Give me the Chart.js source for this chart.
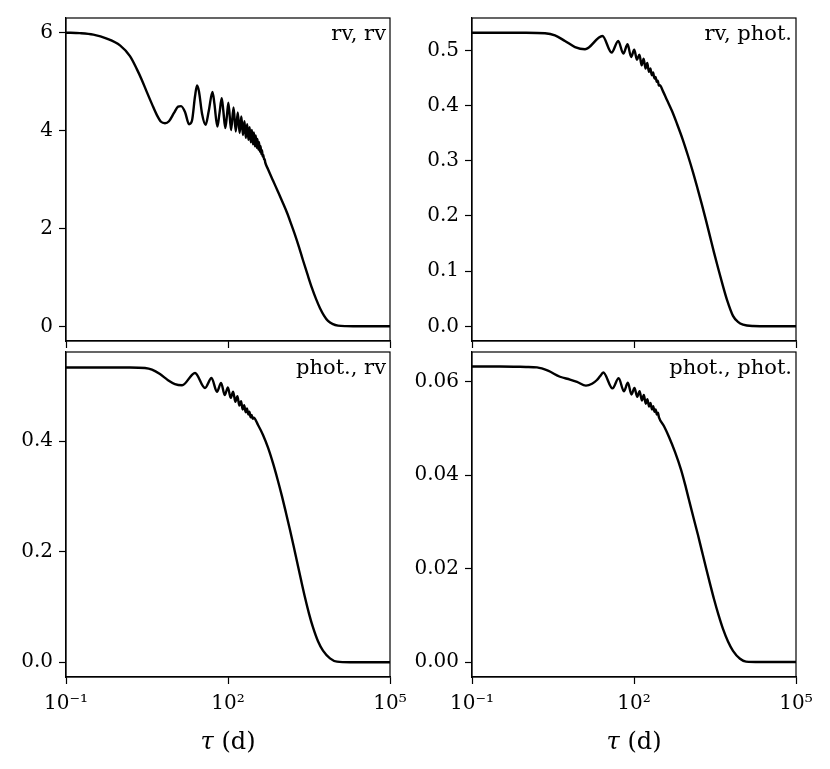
<!DOCTYPE html>
<html><head><meta charset="utf-8">
<script src="https://cdn.jsdelivr.net/npm/chart.js@4/dist/chart.umd.min.js"></script>
<style>
html,body{margin:0;padding:0;background:#fff;}
#wrap{position:relative;width:830px;height:769px;background:#fff;}
canvas{position:absolute;left:0;top:0;}
</style></head><body><div id="wrap">
<canvas id="c0" width="830" height="769"></canvas>
<canvas id="c1" width="830" height="769"></canvas>
<canvas id="c2" width="830" height="769"></canvas>
<canvas id="c3" width="830" height="769"></canvas>
</div>
<script>
// ---- data (tau in days, kernel values) ----
const tauRvRv = [0.1,0.18,0.32,0.57,1.0,1.53,2.06,2.55,3.16,3.91,4.85,5.74,6.81,8.07,10.0,11.9,13.5,16.0,19.0,21.5,24.5,26.7,29.0,33.0,38.5,44.0,51.6,56.0,63.5,69.5,76.5,82.0,89.0,95.5,101.7,114,126.7,139,151.7,164,176.7,189,201.7,214,226.7,239,251.7,264,276.7,289,301.7,314,326.7,339,351.7,364,376.7,389,401.7,414,426.7,439,451.7,464,476.7,489,551,681,843,1021,1239,1468,1741,2065,2448,2966,3594,4264,5058,5995,7110,8800,10890,15300,22500,42700,100000];
const kRvRv = [6.00,5.99,5.96,5.88,5.74,5.52,5.25,5.03,4.78,4.54,4.31,4.18,4.15,4.19,4.36,4.49,4.50,4.38,4.13,4.20,4.70,4.92,4.80,4.35,4.12,4.40,4.79,4.55,4.08,4.35,4.66,4.40,4.05,4.30,4.57,4.01,4.47,3.98,4.37,3.95,4.29,3.91,4.19,3.85,4.13,3.81,4.07,3.76,4.01,3.72,3.96,3.68,3.90,3.65,3.83,3.61,3.76,3.57,3.68,3.52,3.60,3.47,3.50,3.41,3.42,3.35,3.21,2.98,2.75,2.54,2.32,2.10,1.87,1.62,1.35,1.06,0.78,0.56,0.37,0.22,0.11,0.045,0.015,0.003,0.001,0,0];

const tauRvPhot = [0.1,0.33,1,2.25,3.44,5.27,8.08,12.4,26,38.5,51,63.5,76,88.5,101,113.5,126,138.5,151,163.5,176,188.5,201,213.5,226,238.5,251,263.5,276,288.5,301,340,408,506,625,808,1000,1239,1500,1815,2154,2554,3027,3594,4355,5275,6813,8430,10440,16000,33000,100000];
const kRvPhot = [0.532,0.532,0.532,0.531,0.527,0.517,0.506,0.502,0.526,0.496,0.517,0.494,0.511,0.488,0.501,0.483,0.492,0.473,0.485,0.467,0.477,0.461,0.467,0.455,0.460,0.449,0.452,0.443,0.445,0.436,0.437,0.427,0.410,0.390,0.367,0.337,0.309,0.279,0.250,0.220,0.192,0.163,0.134,0.106,0.076,0.048,0.019,0.008,0.003,0.0005,0,0];

const tauPhotRv = [0.1,0.43,1.53,2.9,3.91,5.5,7.74,10.4,14.1,24.5,37.5,49.5,62.5,74.5,87,99.5,112,124.5,137,149.5,162,174.5,187,199.5,212,224.5,237,249.5,262,274.5,287,299.5,360,445,551,681,826,1000,1186,1407,1633,1896,2249,2668,3162,3752,4642,5745,7743,10440,18200,100000];
const kPhotRv = [0.533,0.533,0.533,0.532,0.529,0.521,0.510,0.503,0.501,0.523,0.496,0.514,0.489,0.505,0.483,0.497,0.478,0.489,0.471,0.481,0.464,0.472,0.457,0.465,0.452,0.459,0.448,0.453,0.443,0.447,0.440,0.442,0.429,0.411,0.388,0.360,0.331,0.300,0.270,0.239,0.211,0.182,0.149,0.117,0.088,0.063,0.038,0.021,0.007,0.001,0,0];

const tauPhotPhot = [0.1,0.33,1,1.6,2.55,4.26,6.53,8.8,12.9,16.7,20.6,23.5,27,40,52,65,77,90,102,115,127,140,152,165,177,190,202,215,227,240,252,265,277,290,360,445,574,742,880,1044,1265,1531,1815,2154,2554,3027,3672,4446,5505,6813,9190,11860,21500,100000];
const kPhotPhot = [0.0633,0.0633,0.0632,0.0631,0.0624,0.0611,0.0605,0.0600,0.0592,0.0596,0.0604,0.0612,0.0620,0.0586,0.0608,0.0580,0.0598,0.0573,0.0587,0.0568,0.0580,0.0560,0.0572,0.0553,0.0563,0.0547,0.0555,0.0541,0.0548,0.0536,0.0541,0.0530,0.0534,0.0524,0.0505,0.0482,0.0450,0.0412,0.0381,0.0347,0.0309,0.0272,0.0237,0.0202,0.0168,0.0135,0.0101,0.0071,0.0044,0.0024,0.0007,0.0001,0,0];

const xTicks = [0.1, 100, 100000];
const xTickLabels = ['10\u207B\u00B9', '10\u00B2', '10\u2075'];
const yTicksRvRv = [0, 2, 4, 6];
const yLabelsRvRv = ['0', '2', '4', '6'];
const yTicksRvPhot = [0, 0.1, 0.2, 0.3, 0.4, 0.5];
const yLabelsRvPhot = ['0.0', '0.1', '0.2', '0.3', '0.4', '0.5'];
const yTicksPhotRv = [0, 0.2, 0.4];
const yLabelsPhotRv = ['0.0', '0.2', '0.4'];
const yTicksPhotPhot = [0, 0.02, 0.04, 0.06];
const yLabelsPhotPhot = ['0.00', '0.02', '0.04', '0.06'];
const panelLabels = ['rv, rv', 'rv, phot.', 'phot., rv', 'phot., phot.'];

// ---- layout / style ----
const FONT = "'DejaVu Serif', serif";
const W = 830, H = 769, YAXW = 66;
const panels = [
  {id:'c0', tau:tauRvRv, k:kRvRv, label:panelLabels[0], yMin:-0.3, yMax:6.3, yT:yTicksRvRv, yL:yLabelsRvRv, a:{l:66,t:16,r:390,b:341}, bottom:false},
  {id:'c1', tau:tauRvPhot, k:kRvPhot, label:panelLabels[1], yMin:-0.0266, yMax:0.5586, yT:yTicksRvPhot, yL:yLabelsRvPhot, a:{l:472,t:16,r:796,b:341}, bottom:false},
  {id:'c2', tau:tauPhotRv, k:kPhotRv, label:panelLabels[2], yMin:-0.0267, yMax:0.561, yT:yTicksPhotRv, yL:yLabelsPhotRv, a:{l:66,t:352,r:390,b:677}, bottom:true},
  {id:'c3', tau:tauPhotPhot, k:kPhotPhot, label:panelLabels[3], yMin:-0.0032, yMax:0.0664, yT:yTicksPhotPhot, yL:yLabelsPhotPhot, a:{l:472,t:352,r:796,b:677}, bottom:true}
];

const framePlugin = {
  id: 'frame',
  afterDraw(chart, args, opts) {
    const {ctx, chartArea: a} = chart;
    ctx.save();
    ctx.strokeStyle = '#000';
    ctx.lineWidth = 1.2;
    ctx.strokeRect(a.left, a.top, a.right - a.left, a.bottom - a.top);
    ctx.fillStyle = '#000';
    ctx.font = '21px ' + FONT;
    ctx.textAlign = 'right';
    ctx.textBaseline = 'alphabetic';
    ctx.fillText(opts.label, a.right - 4, a.top + 22);
    if (opts.xTitle) {
      const cx = (a.left + a.right) / 2, by = 749;
      ctx.textAlign = 'left';
      ctx.font = 'italic 24px ' + FONT;
      const t1 = '\u03C4';
      const w1 = ctx.measureText(t1).width;
      ctx.font = '24px ' + FONT;
      const t2 = ' (d)';
      const w2 = ctx.measureText(t2).width;
      const x0 = cx - (w1 + w2) / 2;
      ctx.font = 'italic 24px ' + FONT;
      ctx.fillText(t1, x0, by);
      ctx.font = '24px ' + FONT;
      ctx.fillText(t2, x0 + w1, by);
    }
    ctx.restore();
  }
};

panels.forEach(p => {
  const xH = p.bottom ? 45 : 10;
  const gridOpts = {display: true, drawOnChartArea: false, drawTicks: true, tickLength: 7, tickColor: '#000', tickWidth: 1.2, color: '#000'};
  new Chart(document.getElementById(p.id), {
    type: 'line',
    data: {
      datasets: [{
        data: p.tau.map((t, i) => ({x: t, y: p.k[i]})),
        borderColor: '#000',
        borderWidth: 2.4,
        pointRadius: 0,
        fill: false,
        cubicInterpolationMode: 'monotone'
      }]
    },
    options: {
      responsive: false,
      animation: false,
      events: [],
      layout: {padding: {left: p.a.l - YAXW, top: p.a.t, right: W - p.a.r, bottom: H - p.a.b - xH}},
      plugins: {
        legend: {display: false},
        tooltip: {enabled: false},
        frame: {label: p.label, xTitle: p.bottom}
      },
      scales: {
        x: {
          type: 'logarithmic', min: 0.1, max: 100000,
          afterBuildTicks: s => { s.ticks = xTicks.map(v => ({value: v})); },
          afterFit: s => { s.height = xH; },
          ticks: {display: p.bottom, autoSkip: false, maxRotation: 0, padding: 8, color: '#000',
                  font: {family: FONT, size: 20}, callback: (v, i) => xTickLabels[i]},
          grid: gridOpts,
          border: {display: true, color: '#000', width: 1.2}
        },
        y: {
          type: 'linear', min: p.yMin, max: p.yMax,
          afterBuildTicks: s => { s.ticks = p.yT.map(v => ({value: v})); },
          afterFit: s => { s.width = YAXW; },
          ticks: {autoSkip: false, padding: 6, color: '#000',
                  font: {family: FONT, size: 20}, callback: (v, i) => p.yL[i]},
          grid: gridOpts,
          border: {display: true, color: '#000', width: 1.2}
        }
      }
    },
    plugins: [framePlugin]
  });
});
</script>
</body></html>
